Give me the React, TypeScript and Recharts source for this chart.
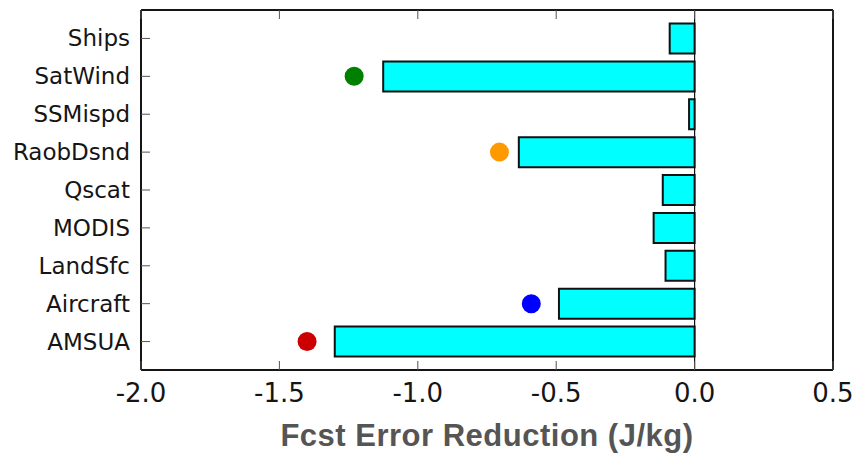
import {
	Bar,
	ComposedChart,
	Line,
	ReferenceLine,
	XAxis,
	YAxis,
} from "recharts";

// observation types, top to bottom
const categories = [
	"Ships",
	"SatWind",
	"SSMispd",
	"RaobDsnd",
	"Qscat",
	"MODIS",
	"LandSfc",
	"Aircraft",
	"AMSUA",
];

// total forecast error reduction per type (J/kg)
const reduction = [-0.09, -1.125, -0.02, -0.635, -0.115, -0.148, -0.105, -0.49, -1.3];

// comparison markers, only for some types
const markers: (number | null)[] = [null, -1.23, null, -0.705, null, null, null, -0.59, -1.4];

const xTicks = [-2.0, -1.5, -1.0, -0.5, 0.0, 0.5];

const markerColor: Record<string, string> = {
	SatWind: "#008000",
	RaobDsnd: "#ff9900",
	Aircraft: "#0000ff",
	AMSUA: "#cc0000",
};

const data = categories.map((name, i) => ({
	name,
	value: reduction[i],
	marker: markers[i],
}));

const frame = "#151515";
const tickColor = "#555";
const TICK_LEN = 9;

// tick margins: labels are placed this far from the axis line, ticks point inward
const X_MARGIN = 32;
const Y_MARGIN = 11;
const TOP_MARGIN = 4;

const BottomTick = (props: any) => {
	const { x, y, payload } = props;
	const axisY = y - X_MARGIN;
	return (
		<g>
			<line x1={x} x2={x} y1={axisY} y2={axisY - TICK_LEN} stroke={tickColor} strokeWidth={1} />
			<text
				x={x}
				y={y}
				textAnchor="middle"
				fontFamily="DejaVu Sans"
				fontSize={26}
				fill="#151515"
			>
				{Number(payload.value).toFixed(1)}
			</text>
		</g>
	);
};

const TopTick = (props: any) => {
	const { x, y } = props;
	const axisY = y + TOP_MARGIN;
	return <line x1={x} x2={x} y1={axisY} y2={axisY + TICK_LEN} stroke={tickColor} strokeWidth={1} />;
};

const LeftTick = (props: any) => {
	const { x, y, payload } = props;
	const axisX = x + Y_MARGIN;
	return (
		<g>
			<line x1={axisX} x2={axisX + TICK_LEN} y1={y} y2={y} stroke={tickColor} strokeWidth={1} />
			<text
				x={x}
				y={y}
				dy={8}
				textAnchor="end"
				fontFamily="DejaVu Sans"
				fontSize={23}
				fill="#151515"
			>
				{payload.value}
			</text>
		</g>
	);
};

const renderMarker = (props: any) => {
	const { cx, cy, payload, index } = props;
	if (payload?.marker == null || cx == null || cy == null) {
		return <g key={`m-${index}`} />;
	}
	return (
		<circle
			key={`m-${index}`}
			cx={cx}
			cy={cy}
			r={9.5}
			fill={markerColor[payload.name]}
			stroke="none"
		/>
	);
};

export default function App() {
	return (
		<div style={{ position: "absolute", left: 0, top: 0, background: "#fff" }}>
			<ComposedChart
				width={856}
				height={453}
				data={data}
				layout="vertical"
				margin={{ top: 9, right: 22, bottom: 43, left: 0 }}
			>
				<XAxis
					type="number"
					domain={[-2, 0.5]}
					ticks={xTicks}
					allowDataOverflow
					height={40}
					axisLine={{ stroke: frame, strokeWidth: 2 }}
					tickLine={false}
					tickSize={0}
					tickMargin={X_MARGIN}
					tick={<BottomTick />}
					label={{
						value: "Fcst Error Reduction (J/kg)",
						position: "bottom",
						offset: 14,
						style: {
							fontFamily: "Liberation Sans",
							fontWeight: "bold",
							fontSize: 31,
							letterSpacing: 0.5,
							fill: "#555555",
						},
					}}
				/>
				<XAxis
					xAxisId="top"
					orientation="top"
					type="number"
					domain={[-2, 0.5]}
					ticks={xTicks}
					allowDataOverflow
					height={1}
					axisLine={{ stroke: frame, strokeWidth: 2 }}
					tickLine={false}
					tickSize={0}
					tickMargin={TOP_MARGIN}
					tick={<TopTick />}
				/>
				<YAxis
					type="category"
					dataKey="name"
					width={141}
					padding={{ top: 9.5, bottom: 9.5 }}
					axisLine={{ stroke: frame, strokeWidth: 2 }}
					tickLine={false}
					tickSize={0}
					tickMargin={Y_MARGIN}
					tick={<LeftTick />}
					interval={0}
				/>
				<YAxis
					yAxisId="right"
					orientation="right"
					type="category"
					dataKey="name"
					width={1}
					padding={{ top: 9.5, bottom: 9.5 }}
					axisLine={{ stroke: frame, strokeWidth: 2 }}
					tickLine={false}
					tick={false}
				/>
				<Bar
					dataKey="value"
					barSize={30}
					fill="#00ffff"
					stroke="#111"
					strokeWidth={2}
					isAnimationActive={false}
				/>
				<ReferenceLine x={0} stroke="#111" strokeWidth={1.2} />
				<Line
					dataKey="marker"
					stroke="none"
					dot={renderMarker}
					activeDot={false}
					legendType="none"
					isAnimationActive={false}
				/>
			</ComposedChart>
		</div>
	);
}
